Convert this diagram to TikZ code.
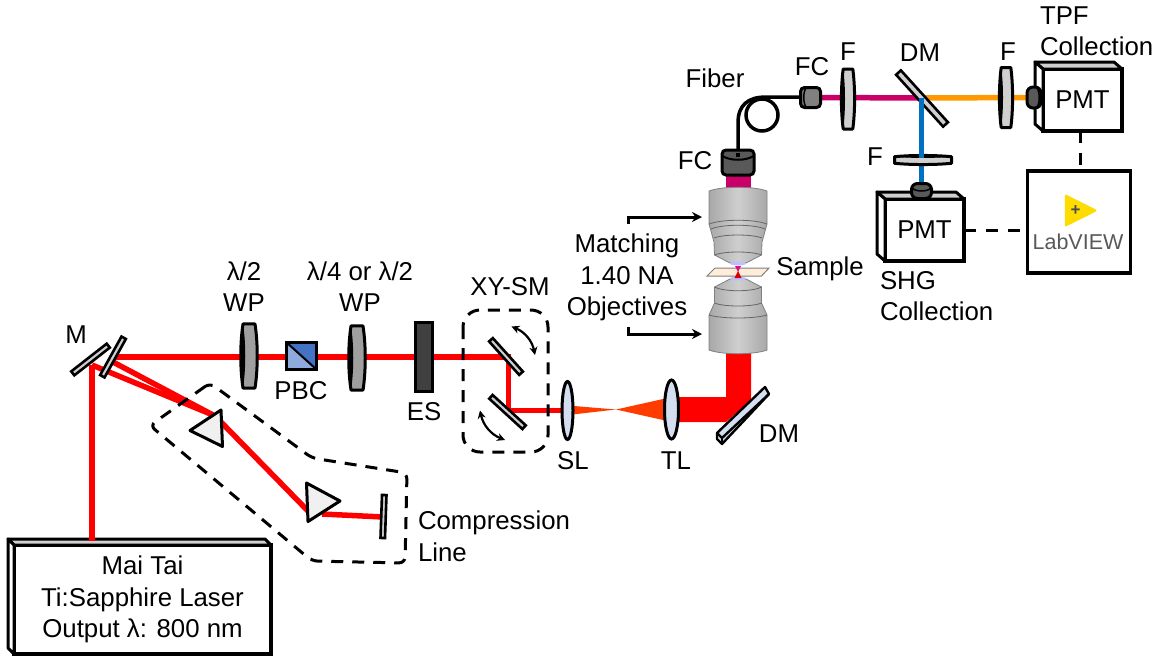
\documentclass[tikz,border=0pt]{standalone}
\usepackage{fontspec}
\setmainfont{Liberation Sans}
\usetikzlibrary{shapes.geometric,arrows.meta}
\definecolor{beamred}{HTML}{FF0000}
\definecolor{conered}{HTML}{FF3C00}
\definecolor{pinkbeam}{HTML}{C80068}
\definecolor{orangebeam}{HTML}{FF9900}
\definecolor{bluebeam}{HTML}{0070C0}
\definecolor{lensblue}{HTML}{D3DEF0}
\definecolor{objgray}{HTML}{A8A8A8}
\definecolor{objlight}{HTML}{CFCFCF}
\definecolor{topgray}{HTML}{CFCFCF}
\definecolor{labgold}{HTML}{FFDC00}
\newcommand{\plate}[3][]{%
  \begin{scope}[shift={(#2)},#1]
    \draw[platedge,fill=#3] (-6,-30) -- (6,-30) .. controls (9,-12) and (9,12) .. (6,30) -- (-6,30) .. controls (-9,12) and (-9,-12) .. (-6,-30) -- cycle;
    \fill[black] (-6,-30) .. controls (-9,-12) and (-9,12) .. (-6,30) .. controls (-3,12) and (-3,-12) .. (-6,-30);
  \end{scope}}
\newcommand{\boxfaces}[3]{%
  \path (#1.north west) ++(-#2,-#3) coordinate (#1a);
  \path (#1.north east) ++(-#2,-#3) coordinate (#1b);
  \path (#1.south west) ++(-#2,-#3) coordinate (#1c);
  \draw[platedge,fill=topgray] (#1.north west) -- (#1a) -- (#1b) -- (#1.north east) -- cycle;
  \draw[platedge,fill=white] (#1.north west) -- (#1a) -- (#1c) -- (#1.south west) -- cycle;}
\tikzset{
  lbl/.style={font=\fontsize{25.8}{31.5}\selectfont,inner sep=0pt,outer sep=0pt,align=center},
  beam/.style={beamred,line width=5.5pt},
  platedge/.style={black,line width=3pt,line join=round},
  mirror/.style={rectangle,draw=black,line width=2.6pt,fill=topgray,inner sep=0pt,minimum height=5pt},
  lens/.style={ellipse,draw=black,line width=3pt,fill=lensblue,inner sep=0pt},
  boxnode/.style={lbl,rectangle,draw=black,line width=3.5pt,fill=white,outer sep=0pt},
  collimator/.style={rectangle,rounded corners=4pt,draw=black,line width=3pt,fill=gray,inner sep=0pt},
  dashbox/.style={black,line width=3pt,dash pattern=on 12pt off 9pt,rounded corners=6pt},
  wire/.style={black,line width=3pt,dash pattern=on 12pt off 10pt},
  pointer/.style={black,line width=3pt,-{Stealth[length=10pt,width=10pt]}},
  swing/.style={black,line width=2.2pt,{Stealth[length=8pt,width=8pt]}-{Stealth[length=8pt,width=8pt]}},
  objective/.style={draw=gray,line width=.8pt,left color=objgray,right color=objgray,middle color=objlight},
  groove/.style={draw=gray!80!black,line width=.8pt}
}
\begin{document}
\begin{tikzpicture}[x=1pt,y=-1pt]
  \useasboundingbox (0,0) rectangle (1162,657);

  \coordinate (mFold) at (92,365);
  \coordinate (foldHit) at (113,362);
  \coordinate (prismIn) at (213,415);
  \coordinate (prismOut) at (221,422);
  \coordinate (prismBackIn) at (308,511);
  \coordinate (prismBackOut) at (322,514);
  \coordinate (laserTop) at (92,541);
  \coordinate (focus) at (616,409.5);
  \coordinate (dmTop) at (921.5,98);
  \coordinate (fiberLoop) at (762,115);

  % Laser
  \node[boxnode,minimum width=257,minimum height=109] (laser) at (142.5,599.5) {Mai Tai\\Ti:Sapphire Laser\\Output λ: 800 nm};
  \boxfaces{laser}{6}{6}

  % Red path
  \draw[beam] (mFold) -- (laserTop);
  \draw[beam] (mFold) -- (prismIn);
  \draw[beam] (foldHit) -- (prismIn);
  \draw[beam] (prismOut) -- (prismBackIn);
  \draw[beam] (prismBackOut) -- (383,517);
  \draw[beam] (115,357) -- (508.5,357) -- (508.5,410.5) -- (568,410.5);

  % Focusing cones and wide beam
  \fill[conered] (568,405.5) -- (focus) -- (568,415) -- cycle;
  \fill[conered] (focus) -- (672,397) -- (672,422) -- cycle;
  \fill[beamred] (672,397) -- (726,397) -- (726,350) -- (751,350) -- (751,400) -- (726,422) -- (672,422) -- cycle;

  % Fluorescence path
  \fill[pinkbeam] (726,170) rectangle (751,190);
  \draw[pinkbeam,line width=5.5pt] (821,97.5) -- (dmTop);
  \draw[orangebeam,line width=5.5pt] (dmTop) -- (1030,97.5);
  \draw[bluebeam,line width=5.5pt] (dmTop) -- (921.5,188);

  % Folding mirrors
  \node[mirror,rotate=38,minimum width=45] (mirrorM) at (90.5,359.5) {};
  \node[mirror,rotate=61,minimum width=44] (mirrorFold) at (113,357) {};
  \node[mirror,rotate=88,minimum width=43,minimum height=4.5] (mirrorEnd) at (383.5,516.5) {};
  \node[mirror,rotate=-48,minimum width=45] (xyA) at (506,356.5) {};
  \node[mirror,rotate=-42.5,minimum width=45] (xyB) at (507.5,412) {};
  \node[mirror,rotate=-47.8,minimum width=70,minimum height=6.5] (dmUpper) at (922,98.5) {};

  % Prisms
  \draw[platedge,fill=black!6] (190,430.5) -- (221,410) -- (222.5,446.5) -- cycle;
  \draw[platedge,fill=black!6] (306.5,483) -- (340,501) -- (308,521.5) -- cycle;

  % Plates and filters
  \plate[yscale=1.07]{249,356}{gray!75}
  \plate[yscale=1.07]{357,358}{gray!75}
  \plate[xscale=.8]{848,99}{topgray}
  \plate[xscale=.8]{1006,97.5}{topgray}
  \plate[rotate=-90,xscale=.55,yscale=.95]{923,160}{topgray}
  \draw[bluebeam,line width=5.5pt] (dmTop) -- (921.5,158);

  % PBC cube
  \node[rectangle,draw=black,line width=3pt,fill=blue!35!cyan!15!white,minimum width=30,minimum height=27,outer sep=0pt,inner sep=0pt] (pbc) at (301,355.5) {};
  \fill[fill={rgb,255:red,143;green,170;blue,220}] (pbc.north west) -- (pbc.south east) -- (pbc.south west) -- cycle;
  \fill[fill={rgb,255:red,68;green,114;blue,196}] (pbc.north west) -- (pbc.south east) -- (pbc.north east) -- cycle;
  \draw[black,line width=3pt] (pbc.north west) rectangle (pbc.south east);
  \draw[black,line width=2pt] (pbc.north west) -- (pbc.south east);

  % Shutter
  \node[rectangle,draw=black,line width=3pt,fill=black!75,minimum width=17,minimum height=69,inner sep=0pt] (shutter) at (424,356.5) {};

  % Lenses
  \node[lens,minimum width=11,minimum height=58] (lensS) at (567.5,410.5) {};
  \node[lens,minimum width=14,minimum height=59] (lensT) at (671.5,409.5) {};

  % Lower dichroic
  \draw[platedge,line width=2.4pt,fill=lensblue] (717,433) -- (765,387) -- (769,394) -- (722,444) -- (717,439) -- cycle;
  \draw[black,line width=2.4pt] (717,433) -- (722,438) -- (769,394);
  \draw[black,line width=2.4pt] (722,438) -- (722,444);

  % Objectives
  \draw[objective] (709,191) .. controls (722,186) and (754,186) .. (767,191) -- (767,224) -- (762,242) -- (761.5,255) -- (746,263) -- (730,263) -- (714.5,255) -- (714,242) -- (709,224) -- cycle;
  \draw[groove] (709,224) .. controls (722,219) and (754,219) .. (767,224);
  \draw[groove] (711,229) .. controls (722,224) and (754,224) .. (765,229);
  \draw[groove] (714,238) .. controls (724,234) and (752,234) .. (762,238);
  \draw[groove] (714.5,255) .. controls (724,251) and (752,251) .. (761.5,255);
  \draw[objective] (730,279) -- (746,279) -- (761.5,287) -- (761.5,303) -- (767,315) -- (767,350) .. controls (754,355) and (722,355) .. (709,350) -- (709,315) -- (714.5,303) -- (714.5,287) -- cycle;
  \draw[groove] (714.5,287) .. controls (724,292) and (752,292) .. (761.5,287);
  \draw[groove] (714.5,303) .. controls (724,307) and (752,307) .. (761.5,303);
  \draw[groove] (709,315) .. controls (722,319) and (754,319) .. (767,315);

  % Sample
  \fill[blue!25] (738,263.5) ellipse (8 and 2);
  \fill[blue!25] (738,278.5) ellipse (8 and 2);
  \draw[gray,line width=1pt,fill=orange!15] (707,276) -- (715,268) -- (769,268) -- (761.5,276) -- cycle;
  \fill[magenta!80!purple] (735,266) -- (741,266) -- (738,272) -- cycle;
  \fill[red!85!black] (738,271) -- (741.5,278) -- (734.5,278) -- cycle;

  % Fiber and couplers
  \draw[black,line width=3.5pt] (fiberLoop) circle (16pt);
  \draw[black,line width=3.5pt] (738,153) -- (738,123) .. controls (738,105) and (748,97) .. (766,97) -- (802,97);
  \node[collimator,minimum width=32,minimum height=25,fill=black!65] (fcLower) at (738,162.5) {};
  \draw[black,line width=2pt] (722.5,156) .. controls (730,161) and (746,161) .. (753.5,156);
  \draw[black,line width=3.5pt] (738,153) -- (738,157);
  \node[collimator,minimum width=20,minimum height=20,fill=black!50] (fcUpper) at (810.5,97.5) {};
  \draw[black,line width=1.5pt] (806,88) .. controls (803,92) and (803,103) .. (806,107);

  % PMT boxes
  \node[boxnode,minimum width=79,minimum height=62] (pmtTop) at (1082.5,100) {PMT};
  \boxfaces{pmtTop}{8}{7}
  \node[boxnode,minimum width=79,minimum height=62] (pmtLow) at (924.5,230) {PMT};
  \boxfaces{pmtLow}{8}{7}
  \node[collimator,rounded corners=6pt,minimum width=14,minimum height=21,fill=black!65] (knobTop) at (1034,97.5) {};
  \draw[black,line width=1.5pt] (1037,88) .. controls (1040,92) and (1040,103) .. (1037,107);
  \node[collimator,rounded corners=6pt,minimum width=20,minimum height=15,fill=black!65] (knobLow) at (921.5,191) {};
  \draw[black,line width=1.5pt] (912,188) .. controls (916,192) and (927,192) .. (931,188);

  % LabVIEW box
  \node[boxnode,minimum width=103,minimum height=102] (labview) at (1079,222) {};
  \draw[labgold,fill=labgold,line width=2.5pt,line join=round] (1066,196) -- (1095,210.5) -- (1066,225) -- cycle;
  \node[lbl,font=\bfseries\fontsize{17}{17}\selectfont,text=black!70] (labPlus) at (1075.5,210.5) {+};
  \node[lbl,font=\fontsize{21.5}{22}\selectfont,text=black!65] (labText) at (1078,242) {LabVIEW};
  \draw[wire] (pmtTop.south -| labPlus) ++(5,0) -- ++(0,39);
  \draw[wire] (pmtLow.east) -- (labview.west |- pmtLow.east);

  % Dashed groups
  \draw[dashbox] (210,383) -- (150,425.5) -- (312,561) -- (405,563) -- (407,473) -- (312,458) -- cycle;
  \draw[dashbox,rounded corners=17pt] (463,310) rectangle (548,452);

  % Scan arrows
  \draw[swing] (511.5,326.5) to[bend left=28] (535,355);
  \draw[swing] (480,410.5) to[bend right=28] (505,440);

  % Objective pointers
  \draw[pointer] (628,224) -- (628,217) -- (702,217);
  \draw[pointer] (628,327) -- (628,334) -- (702,334);

  % Labels
  \node[lbl] (labM) at (76,335) {M};
  \node[lbl] (labWPa) at (244,286.5) {λ/2\\WP};
  \node[lbl] (labWPb) at (360,286.5) {λ/4 or λ/2\\WP};
  \node[lbl] (labPBC) at (301,391) {PBC};
  \node[lbl] (labES) at (424,412) {ES};
  \node[lbl] (labXY) at (510,287) {XY-SM};
  \node[lbl] (labSL) at (573,461) {SL};
  \node[lbl] (labTL) at (676,461) {TL};
  \node[lbl] (labDMa) at (779,434) {DM};
  \node[lbl,align=left,anchor=west] (labComp) at (418,536.5) {Compression\\Line};
  \node[lbl] (labObj) at (627,277.5) {Matching\\1.40 NA\\Objectives};
  \node[lbl] (labSample) at (820,269) {Sample};
  \node[lbl] (labFiber) at (715,78) {Fiber};
  \node[lbl] (labFCa) at (812,67) {FC};
  \node[lbl] (labFCb) at (695,161) {FC};
  \node[lbl] (labFa) at (848,52) {F};
  \node[lbl] (labDMb) at (920,53) {DM};
  \node[lbl] (labFb) at (1008,52) {F};
  \node[lbl] (labFc) at (875,157) {F};
  \node[lbl,align=left,anchor=west] (labTPF) at (1040,31) {\hspace*{0pt}TPF\\Collection};
  \node[lbl,align=left,anchor=west] (labSHG) at (880,296) {SHG\\Collection};
\end{tikzpicture}
\end{document}
